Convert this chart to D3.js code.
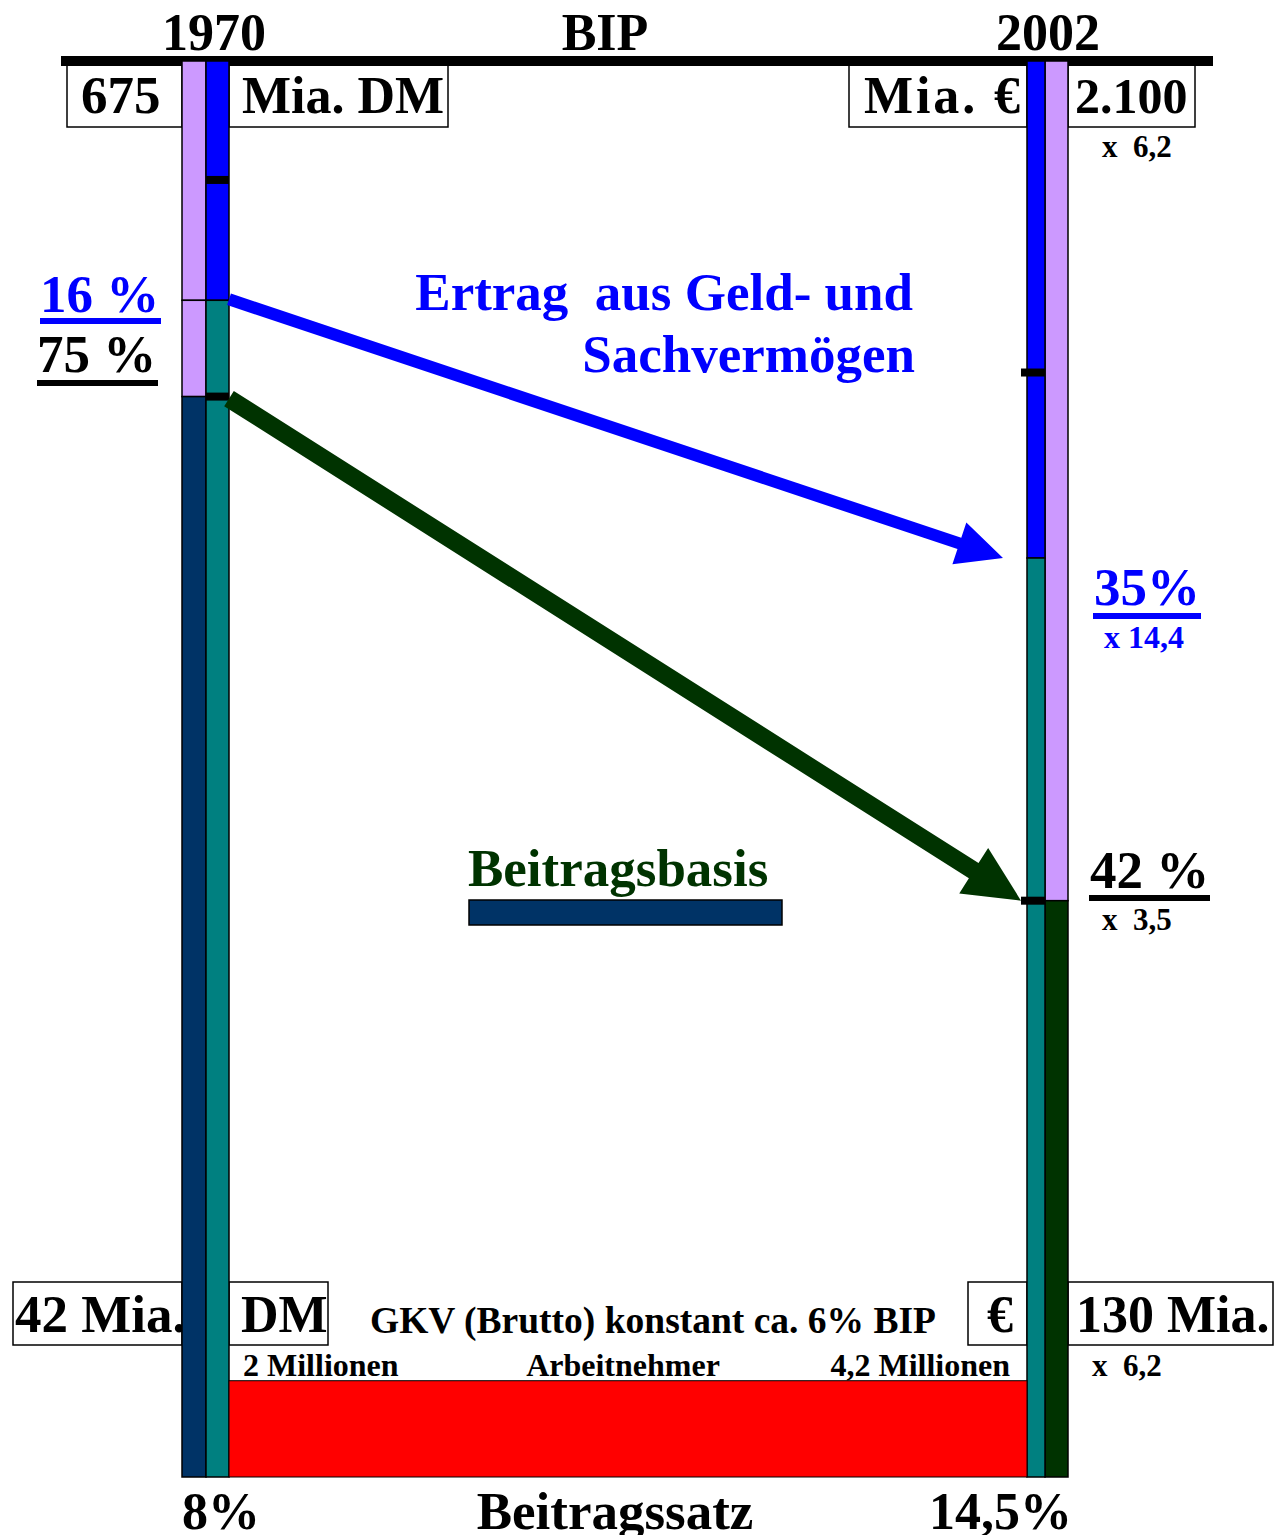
<!DOCTYPE html>
<html>
<head>
<meta charset="utf-8">
<script src="https://cdn.jsdelivr.net/npm/d3@7"></script>
<style>
  body { margin: 0; background: #fff; }
  text { font-family: "Liberation Serif", "Times New Roman", serif; font-weight: bold; white-space: pre; }
</style>
</head>
<body>
<div id="chart"></div>
<script>
// ========================================
// DATA (shares in % of BIP)
// ========================================

const years = [1970, 2002];
const bipLabels = ["675", "2.100"];
const bipUnits = ["Mia. DM", "Mia. €"];
const ertragShare = [16.9, 35.1];      // Ertrag aus Geld- und Sachvermögen
const ertragTicks = [8.4, 22.0];
const basisShare = [76.3, 40.7];       // Beitragsbasis
const gkvShare = 6.8;                  // GKV (Brutto) ca. 6% BIP
const gkvLabels = ["42 Mia.", "130 Mia."];
const gkvUnits = ["DM", "€"];
const employees = ["2 Millionen", "4,2 Millionen"];
const rates = ["8%", "14,5%"];
const factors = { bip: "x  6,2", ertrag: "x 14,4", basis: "x  3,5", gkv: "x  6,2" };

// ========================================
// SETUP
// ========================================

const width = 1287, height = 1535;

let svg = d3.select("#chart")
  .append("svg")
  .attr("width", width)
  .attr("height", height);

let x = d3.scaleLinear().domain(years).range([206, 1045]);
let y = d3.scaleLinear().domain([0, 100]).range([61, 1477]);

// column offsets from the year position: inner = blue/teal, outer = lavender/basis
const cols = {
  1970: { inner: [0, 23], outer: [-24, 0] },
  2002: { inner: [-18, 0], outer: [0, 23] }
};

const colors = {
  lavender: "#CC99FF", blue: "#0000FF", teal: "#008080",
  navy: "#003366", green: "#003300", red: "#FF0000"
};
const basisColor = [colors.navy, colors.green];

function label(txt, px, py, size, opts) {
  opts = opts || {};
  let t = svg.append("text")
    .attr("x", px).attr("y", py)
    .attr("font-size", size)
    .attr("text-anchor", opts.anchor || "start")
    .attr("fill", opts.fill || "#000")
    .text(txt);
  if (opts.len) t.attr("textLength", opts.len).attr("lengthAdjust", "spacing");
  return t;
}

function box(x0, y0, x1, y1) {
  svg.append("rect")
    .attr("x", x0).attr("y", y0)
    .attr("width", x1 - x0).attr("height", y1 - y0)
    .attr("fill", "#fff").attr("stroke", "#000").attr("stroke-width", 1.5);
}

// ========================================
// HEADER, BOXES AND LABELS
// ========================================

label("1970", x(1970) + 8, 50, 52, { anchor: "middle" });
label("BIP", 605, 50, 52, { anchor: "middle" });
label("2002", x(2002) + 3, 50, 52, { anchor: "middle" });

box(67, 61, x(1970) - 24, 127);
box(x(1970) + 23, 61, 448, 127);
box(849, 61, x(2002) - 18, 127);
box(x(2002) + 23, 61, 1195, 127);
label(bipLabels[0], 81, 113, 53);
label(bipUnits[0], 242, 113, 52);
label(bipUnits[1], 864, 113, 52, { len: 156 });
label(bipLabels[1], 1075, 113, 50);
label(factors.bip, 1102, 157, 31);

svg.append("rect").attr("x", 61).attr("y", 56).attr("width", 1152).attr("height", 10).attr("fill", "#000");

// left percentages
label(Math.floor(ertragShare[0]) + " %", 40, 312, 53, { fill: colors.blue });
svg.append("rect").attr("x", 40).attr("y", 318).attr("width", 121).attr("height", 6).attr("fill", colors.blue);
label("75 %", 37, 372, 53);
svg.append("rect").attr("x", 37).attr("y", 380).attr("width", 121).attr("height", 6).attr("fill", "#000");

// right percentages
label(Math.round(ertragShare[1]) + "%", 1094, 605, 53, { fill: colors.blue });
svg.append("rect").attr("x", 1093).attr("y", 613).attr("width", 108).attr("height", 6).attr("fill", colors.blue);
label(factors.ertrag, 1104, 648, 32, { fill: colors.blue });
label("42 %", 1090, 888, 53);
svg.append("rect").attr("x", 1089).attr("y", 895).attr("width", 121).attr("height", 6).attr("fill", "#000");
label(factors.basis, 1102, 930, 31);

label("Ertrag  aus Geld- und", 913, 310, 53, { anchor: "end", fill: colors.blue });
label("Sachvermögen", 915, 372, 53, { anchor: "end", fill: colors.blue });

label("Beitragsbasis", 468, 886, 53, { fill: colors.green });
svg.append("rect").attr("x", 469).attr("y", 900).attr("width", 313).attr("height", 25)
  .attr("fill", colors.navy).attr("stroke", "#000").attr("stroke-width", 1.5);

// bottom boxes
box(13, 1282, x(1970) - 24, 1345);
box(x(1970) + 23, 1282, 328, 1345);
box(968, 1282, x(2002) - 18, 1345);
box(x(2002) + 23, 1282, 1273, 1345);
label(gkvLabels[0], 15, 1332, 53);
label(gkvUnits[0], 241, 1332, 52);
label(gkvUnits[1], 1000, 1332, 52, { anchor: "middle" });
label(gkvLabels[1], 1076, 1332, 52);
label("GKV (Brutto) konstant ca. 6% BIP", 370, 1333, 37.5);
label(factors.gkv, 1092, 1376, 31);

label(employees[0], 243, 1376, 32);
label("Arbeitnehmer", 623, 1376, 32, { anchor: "middle" });
label(employees[1], 1010, 1376, 32, { anchor: "end" });

label(rates[0], 182, 1529, 52);
label("Beitragssatz", 615, 1529, 53, { anchor: "middle" });
label(rates[1], 929, 1529, 52);

// ========================================
// BARS
// ========================================

let segments = [];
years.forEach(function(yr, i) {
  let c = cols[yr];
  let restEnd = 100 - basisShare[i];
  segments.push({ col: c.outer, yr: yr, from: 0, to: restEnd, fill: colors.lavender });
  segments.push({ col: c.outer, yr: yr, from: restEnd, to: 100, fill: basisColor[i] });
  segments.push({ col: c.inner, yr: yr, from: 0, to: ertragShare[i], fill: colors.blue });
  segments.push({ col: c.inner, yr: yr, from: ertragShare[i], to: 100, fill: colors.teal });
});
// 1970 lavender is split at the Ertrag share
segments.splice(0, 1,
  { col: cols[1970].outer, yr: 1970, from: 0, to: ertragShare[0], fill: colors.lavender },
  { col: cols[1970].outer, yr: 1970, from: ertragShare[0], to: 100 - basisShare[0], fill: colors.lavender });

svg.append("g").selectAll("rect")
  .data(segments)
  .join("rect")
  .attr("x", d => x(d.yr) + d.col[0])
  .attr("width", d => d.col[1] - d.col[0])
  .attr("y", d => y(d.from))
  .attr("height", d => y(d.to) - y(d.from))
  .attr("fill", d => d.fill)
  .attr("stroke", "#000")
  .attr("stroke-width", 1.5);

// GKV block between the columns
svg.append("rect")
  .attr("x", x(1970) + 23)
  .attr("width", x(2002) - 18 - x(1970) - 23)
  .attr("y", y(100 - gkvShare))
  .attr("height", y(100) - y(100 - gkvShare))
  .attr("fill", colors.red)
  .attr("stroke", "#000")
  .attr("stroke-width", 1);

// black ticks on the inner columns
let ticks = [
  { yr: 1970, v: ertragTicks[0], ext: 0 },
  { yr: 1970, v: 100 - basisShare[0], ext: 0 },
  { yr: 2002, v: ertragTicks[1], ext: 6 },
  { yr: 2002, v: 100 - basisShare[1], ext: 6 }
];
svg.append("g").selectAll("rect")
  .data(ticks)
  .join("rect")
  .attr("x", d => x(d.yr) + cols[d.yr].inner[0] - d.ext)
  .attr("width", d => cols[d.yr].inner[1] - cols[d.yr].inner[0] + d.ext)
  .attr("y", d => y(d.v) - 4)
  .attr("height", 8)
  .attr("fill", "#000");

// ========================================
// ARROWS
// ========================================

function arrow(x0, y0, x1, y1, half, headLen, headHalf, fill) {
  let dx = x1 - x0, dy = y1 - y0, len = Math.hypot(dx, dy);
  let ux = dx / len, uy = dy / len, nx = -uy, ny = ux;
  let bx = x1 - ux * headLen, by = y1 - uy * headLen;
  let pts = [
    [x0 + nx * half, y0 + ny * half],
    [bx + nx * half, by + ny * half],
    [bx + nx * headHalf, by + ny * headHalf],
    [x1, y1],
    [bx - nx * headHalf, by - ny * headHalf],
    [bx - nx * half, by - ny * half],
    [x0 - nx * half, y0 - ny * half]
  ];
  svg.append("path")
    .attr("d", d3.line()(pts) + "Z")
    .attr("fill", fill);
}

arrow(x(1970) + 23, y(ertragShare[0]) - 1, x(2002) - 42, y(ertragShare[1]), 6, 46, 22, colors.blue);
arrow(x(1970) + 23, y(100 - basisShare[0]) + 2, x(2002) - 24, y(100 - basisShare[1]), 9, 56, 27, colors.green);
</script>
</body>
</html>
